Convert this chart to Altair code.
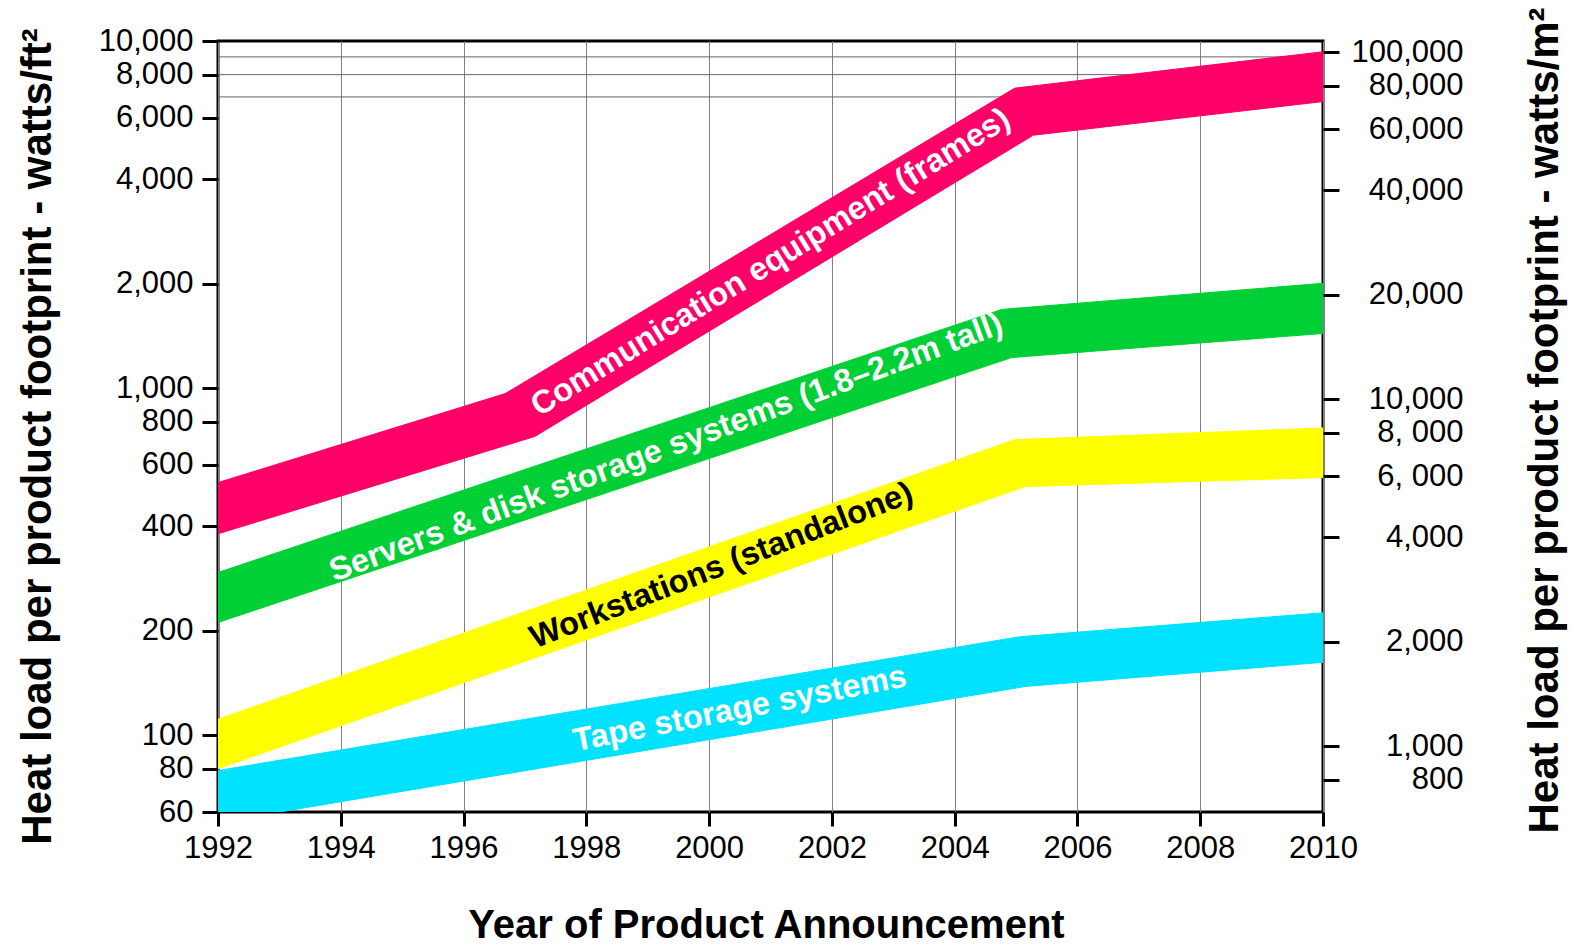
import altair as alt
import pandas as pd

# ---- data ----
year_ticks = list(range(1992, 2011, 2))
left_ticks = [60, 80, 100, 200, 400, 600, 800, 1000, 2000, 4000, 6000, 8000, 10000]
right_ticks = [800, 1000, 2000, 4000, 6000, 8000, 10000, 20000, 40000, 60000, 80000, 100000]
grid_values = [6900, 8000, 9000]

band_names = [
    "Communication equipment (frames)",
    "Servers & disk storage systems (1.8–2.2m tall)",
    "Workstations (standalone)",
    "Tape storage systems",
]

comm_upper_year = [1992, 1996.68, 2004.98, 2010]
comm_upper_val = [534, 964, 7315, 9311]
comm_lower_year = [1992, 1997.16, 2005.28, 2010]
comm_lower_val = [380, 725, 5352, 6690]

srv_upper_year = [1992, 2004.77, 2010]
srv_upper_val = [294, 1685, 2003]
srv_lower_year = [1992, 2004.93, 2010]
srv_lower_val = [211, 1224, 1436]

ws_upper_year = [1992, 2004.98, 2010]
ws_upper_val = [111, 710, 767]
ws_lower_year = [1992, 2005.15, 2010]
ws_lower_val = [80, 520, 552]

tape_upper_year = [1992, 2005.06, 2010]
tape_upper_val = [79, 192, 225]
tape_lower_year = [1992, 2005.15, 2010]
tape_lower_val = [56, 138, 162]

label_year = [2001.0, 1999.3, 2000.2, 2000.5]
label_value = [2300, 673, 308, 119]

# ---- styles ----
band_colors = ["#FF0068", "#00D036", "#FFFF00", "#00E2FF"]
label_colors = ["white", "white", "black", "white"]
label_angles = [328.3, 339.6, 338.8, 348.9]
FONT = "Liberation Sans"

FT2_TO_M2 = 10.7639


def polygon(uy, uv, ly, lv):
    xs = list(uy) + list(reversed(ly))
    vs = list(uv) + list(reversed(lv))
    return pd.DataFrame({"year": xs, "value": vs, "idx": list(range(len(xs)))})


bands = [
    polygon(comm_upper_year, comm_upper_val, comm_lower_year, comm_lower_val),
    polygon(srv_upper_year, srv_upper_val, srv_lower_year, srv_lower_val),
    polygon(ws_upper_year, ws_upper_val, ws_lower_year, ws_lower_val),
    polygon(tape_upper_year, tape_upper_val, tape_lower_year, tape_lower_val),
]

x_enc = alt.X(
    "year:Q",
    scale=alt.Scale(domain=[1992, 2010], nice=False, zero=False),
    axis=alt.Axis(
        values=year_ticks,
        format="d",
        grid=True,
        gridColor="#808080",
        gridWidth=1,
        domain=False,
        ticks=True,
        tickSize=14,
        tickWidth=3,
        tickColor="black",
        labelFont=FONT,
        labelFontSize=31,
        labelColor="black",
        labelPadding=7,
        labelFlush=False,
        title="Year of Product Announcement",
        titleFont=FONT,
        titleFontSize=40,
        titleFontWeight="bold",
        titleColor="black",
        titleX=548,
        titleY=125,
        titleAlign="center",
        titleBaseline="alphabetic",
    ),
)

y_enc = alt.Y(
    "value:Q",
    scale=alt.Scale(type="log", domain=[60, 10000], nice=False),
    axis=alt.Axis(
        values=left_ticks,
        format=",",
        grid=False,
        domain=False,
        tickSize=16,
        tickWidth=3,
        tickColor="black",
        labelFont=FONT,
        labelFontSize=31,
        labelColor="black",
        labelPadding=9,
        labelFlush=False,
        labelOverlap=False,
        title="Heat load per product footprint - watts/ft²",
        titleFont=FONT,
        titleFontSize=42,
        titleFontWeight="bold",
        titleColor="black",
        titleAngle=270,
        titleX=-168,
        titleY=395,
        titleAlign="center",
        titleBaseline="alphabetic",
    ),
)

layers = []
for df, col in zip(bands, band_colors):
    layers.append(
        alt.Chart(df)
        .mark_line(fill=col, stroke=col, strokeWidth=1, clip=True)
        .encode(x=x_enc, y=y_enc, order=alt.Order("idx:Q"))
    )

grid_df = pd.DataFrame({"value": grid_values})
grid_layer = alt.Chart(grid_df).mark_rule(color="#666666", strokeWidth=1).encode(y=y_enc)

text_layers = []
for i in range(len(band_names)):
    tdf = pd.DataFrame({"year": [label_year[i]], "value": [label_value[i]], "label": [band_names[i]]})
    text_layers.append(
        alt.Chart(tdf)
        .mark_text(
            font=FONT,
            fontSize=32.5,
            fontWeight="bold",
            color=label_colors[i],
            angle=label_angles[i],
            align="center",
            baseline="middle",
        )
        .encode(x=x_enc, y=y_enc, text="label:N")
    )

left = alt.layer(grid_layer, *layers, *text_layers)

right_df = pd.DataFrame({"wm2": right_ticks})
right = (
    alt.Chart(right_df)
    .mark_point(opacity=0)
    .encode(
        y=alt.Y(
            "wm2:Q",
            scale=alt.Scale(type="log", domain=[60 * FT2_TO_M2, 10000 * FT2_TO_M2], nice=False),
            axis=alt.Axis(
                orient="right",
                values=right_ticks,
                labelExpr="datum.value == 8000 ? '8, 000' : datum.value == 6000 ? '6, 000' : format(datum.value, ',')",
                grid=False,
                domain=False,
                tickSize=16,
                tickWidth=3,
                tickColor="black",
                labelFont=FONT,
                labelFontSize=31,
                labelColor="black",
                labelAlign="right",
                labelPadding=124,
                labelFlush=False,
                labelOverlap=False,
                title="Heat load per product footprint - watts/m²",
                titleFont=FONT,
                titleFontSize=42,
                titleFontWeight="bold",
                titleColor="black",
                titleAngle=270,
                titleX=234,
                titleY=379,
                titleAlign="center",
                titleBaseline="alphabetic",
            ),
        )
    )
)

chart = (
    alt.layer(left, right)
    .resolve_scale(y="independent")
    .properties(
        width=1105,
        height=771,
        autosize=alt.AutoSizeParams(type="none"),
        padding={"left": 218, "top": 41, "right": 251, "bottom": 133},
        background="white",
    )
    .configure_view(stroke="black", strokeWidth=3)
)

chart.save("out.html", embed_options={"renderer": "svg", "actions": False})
